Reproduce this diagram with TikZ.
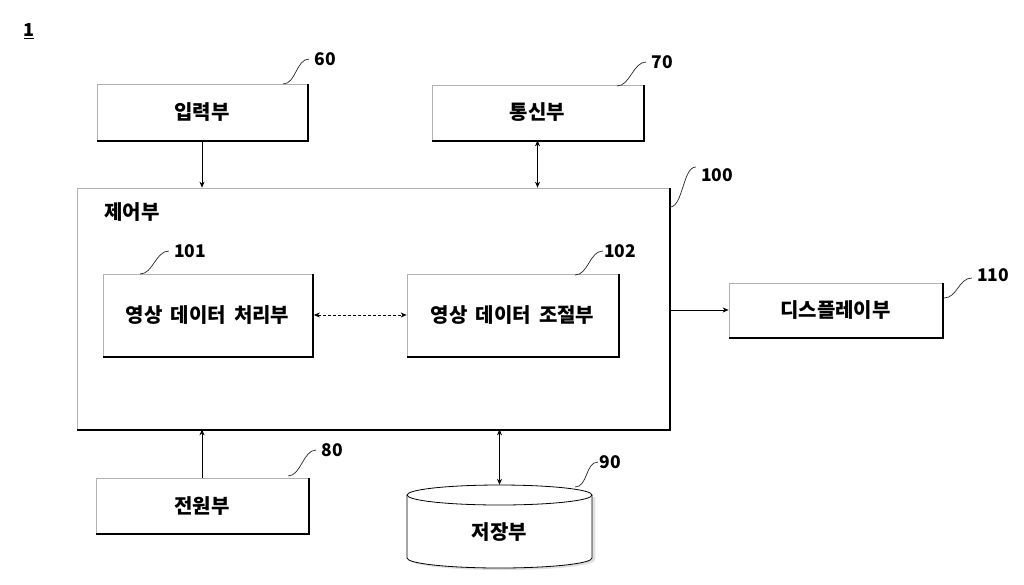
\documentclass[tikz,border=0pt]{standalone}
\usepackage{fontspec}
\setmainfont{Noto Sans CJK KR}[WordSpace=1.8]
\usetikzlibrary{arrows.meta}
\begin{document}
\begin{tikzpicture}[x=1pt,y=-1pt,
  box/.style={draw=gray!60, line width=0.7pt, fill=white, inner sep=0pt,
    font=\fontsize{20}{22}\selectfont\bfseries},
  num/.style={font=\fontsize{17.5}{19}\selectfont\bfseries, inner sep=0pt},
  lead/.style={line width=0.7pt, black!85},
  con/.style={line width=0.7pt, -{Stealth[length=6pt,width=5pt]}},
  biconn/.style={line width=0.7pt, {Stealth[length=6pt,width=5pt]}-{Stealth[length=6pt,width=5pt]}},
  edgethick/.style={line width=2.2pt, line cap=rect}]
\useasboundingbox[fill=white] (0,0) rectangle (1024,584);

% title
\node[num, font=\fontsize{18}{20}\selectfont\bfseries] (fig) at (29,31) {\underline{1}};

% boxes
\node[box, minimum width=210pt, minimum height=56pt] (in) at (202,112) {입력부};
\node[box, minimum width=211pt, minimum height=55pt] (com) at (537.5,112.5) {통신부};
\node[box, minimum width=592pt, minimum height=241pt] (ctrl) at (373,308.5) {};
\node[anchor=west, font=\fontsize{20}{22}\selectfont\bfseries, inner sep=0pt] (ctrltxt) at (104,212) {제어부};
\node[box, minimum width=209pt, minimum height=82pt] (p1) at (207.5,315) {영상 데이터 처리부};
\node[box, minimum width=211pt, minimum height=82pt] (p2) at (512.5,315) {영상 데이터 조절부};
\node[box, minimum width=213pt, minimum height=54pt] (disp) at (835.5,310) {디스플레이부};
\node[box, minimum width=212pt, minimum height=55pt] (pow) at (202,505.5) {전원부};

\foreach \n in {in,com,ctrl,p1,p2,disp,pow}{
  \draw[edgethick] ([xshift=1pt,yshift=-1pt]\n.north east) -- ([xshift=1pt,yshift=-1pt]\n.south east) -- ([xshift=1pt,yshift=-1pt]\n.south west);
}

% storage cylinder
\fill[gray!25] (410,497) -- (410,560) arc[start angle=180,end angle=360,x radius=92.5pt,y radius=10pt] -- (595,497) -- cycle;
\draw[line width=0.8pt, fill=white] (407,495) -- (407,558)
  arc[start angle=180,end angle=360,x radius=92.5pt,y radius=10pt]
  -- (592,495)
  arc[start angle=0,end angle=180,x radius=92.5pt,y radius=10pt] -- cycle;
\draw[line width=0.8pt] (407,495) arc[start angle=180,end angle=360,x radius=92.5pt,y radius=10pt];
\node[inner sep=0pt, minimum width=185pt, minimum height=94pt, font=\fontsize{20}{22}\selectfont\bfseries] (st) at (499.5,532) {저장부};

% reference numerals
\node[num] (n60) at (325,59) {60};
\node[num] (n70) at (662,62) {70};
\node[num] (n100) at (717,175) {100};
\node[num] (n101) at (190,251) {101};
\node[num] (n102) at (620,251) {102};
\node[num] (n110) at (993,275) {110};
\node[num] (n80) at (332,450) {80};
\node[num] (n90) at (610,462) {90};

% leader lines
\coordinate (l60) at (283,84);
\coordinate (l70) at (617,86);
\coordinate (l100) at (670,207);
\coordinate (l101) at (140,274);
\coordinate (l102) at (575,275);
\coordinate (l110) at (944,298);
\coordinate (l80) at (288,476);
\coordinate (l90) at (575,487);
\draw[lead] (l60) .. controls +(13,0) and +(-13,0) .. ([xshift=-5pt]n60.west);
\draw[lead] (l70) .. controls +(13,0) and +(-13,0) .. ([xshift=-5pt]n70.west);
\draw[lead] (l100) .. controls +(13,0) and +(-13,0) .. ([xshift=-5pt,yshift=8pt]n100.west);
\draw[lead] (l101) .. controls +(13,0) and +(-13,0) .. ([xshift=-5pt]n101.west);
\draw[lead] (l102) .. controls +(13,0) and +(-13,0) .. ([xshift=-1pt]n102.west);
\draw[lead] (l110) .. controls +(13,0) and +(-13,0) .. ([xshift=-5pt,yshift=-3pt]n110.west);
\draw[lead] (l80) .. controls +(13,0) and +(-13,0) .. ([xshift=-5pt]n80.west);
\draw[lead] (l90) .. controls +(13,0) and +(-13,0) .. ([xshift=-1pt]n90.west);

% connectors
\draw[con] (in.south) -- (in.south |- ctrl.north);
\draw[biconn] (com.south) -- (com.south |- ctrl.north);
\draw[con] (ctrl.east |- disp.west) -- (disp.west);
\draw[biconn, dash pattern=on 3pt off 2pt] ([xshift=1.5pt]p1.east) -- (p2.west);
\draw[con] (pow.north) -- (pow.north |- ctrl.south);
\draw[biconn] (st.north) -- (st.north |- ctrl.south);
\end{tikzpicture}
\end{document}
